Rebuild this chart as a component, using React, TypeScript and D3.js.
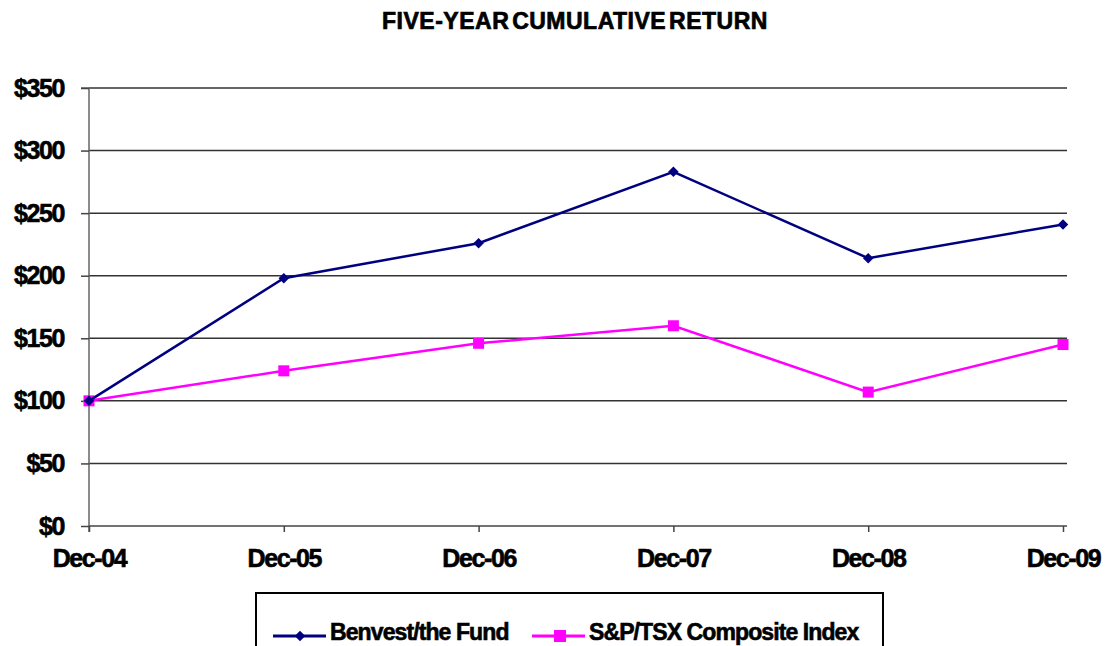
import * as d3 from 'd3';
import { useEffect, useRef } from 'react';

const periods = ['Dec-04', 'Dec-05', 'Dec-06', 'Dec-07', 'Dec-08', 'Dec-09'];
const benvest = [100, 198, 226, 283, 214, 241];
const sptsx = [100, 124, 146, 160, 107, 145];
const yTicks = [0, 50, 100, 150, 200, 250, 300, 350];
const seriesNames = ['Benvest/the Fund', 'S&P/TSX Composite Index'];

const W = 1107;
const H = 646;
const FONT = '"Liberation Sans", Arial, sans-serif';

export default function App() {
  const ref = useRef<SVGSVGElement | null>(null);

  useEffect(() => {
    const svg = d3.select(ref.current);
    svg.selectAll('*').remove();

    const left = 89;
    const right = 1063;
    const top = 88;
    const bottom = 526;

    const x = d3.scalePoint<string>().domain(periods).range([left, right]);
    const y = d3.scaleLinear().domain([0, 350]).range([bottom, top]);

    // title
    svg.append('text')
      .attr('x', 575)
      .attr('y', 29)
      .attr('text-anchor', 'middle')
      .attr('font-family', FONT)
      .attr('font-weight', 'bold')
      .attr('font-size', 23)
      .attr('letter-spacing', 0.5)
      .attr('word-spacing', -4)
      .attr('stroke', '#000')
      .attr('stroke-width', 0.7)
      .text('FIVE-YEAR CUMULATIVE RETURN');

    // gridlines
    svg.append('g')
      .selectAll('line')
      .data(yTicks.filter((d) => d > 0))
      .enter()
      .append('line')
      .attr('x1', left)
      .attr('x2', right + 4)
      .attr('y1', (d) => y(d))
      .attr('y2', (d) => y(d))
      .attr('stroke', '#333')
      .attr('stroke-width', 1.5);

    const styleLabels = (sel: any, size: number, spacing: number) => {
      sel.attr('font-family', FONT)
        .attr('font-weight', 'bold')
        .attr('font-size', size)
        .attr('letter-spacing', spacing)
        .attr('fill', '#000')
        .attr('stroke', '#000')
        .attr('stroke-width', 0.6);
    };

    // Y axis
    const yAxis = svg.append('g')
      .attr('transform', `translate(${left},0)`)
      .call(d3.axisLeft(y).tickValues(yTicks).tickSize(8).tickPadding(17).tickFormat((d) => `$${d}`));
    yAxis.select('.domain').attr('stroke', '#666').attr('stroke-width', 1.5).attr('d', `M-8,${top}H0V${bottom + 6}`);
    yAxis.selectAll('.tick line').attr('stroke', '#444').attr('stroke-width', 1.5);
    styleLabels(yAxis.selectAll('text'), 25, -1.4);

    // X axis
    const xAxis = svg.append('g')
      .attr('transform', `translate(0,${bottom})`)
      .call(d3.axisBottom(x).tickSize(6).tickPadding(17));
    xAxis.select('.domain').attr('stroke', '#444').attr('stroke-width', 1.5).attr('d', `M${left},0H${right + 4}`);
    xAxis.selectAll('.tick line').attr('stroke', '#444').attr('stroke-width', 1.5);
    styleLabels(xAxis.selectAll('text'), 25, -1.4);

    const line = d3.line<number>()
      .x((d, i) => x(periods[i]) as number)
      .y((d) => y(d));

    // S&P/TSX series
    svg.append('path')
      .datum(sptsx)
      .attr('d', line)
      .attr('fill', 'none')
      .attr('stroke', '#ff00ff')
      .attr('stroke-width', 2.5);
    svg.append('g')
      .selectAll('rect')
      .data(sptsx)
      .enter()
      .append('rect')
      .attr('x', (d, i) => (x(periods[i]) as number) - 5.5)
      .attr('y', (d) => y(d) - 5.5)
      .attr('width', 11)
      .attr('height', 11)
      .attr('fill', '#ff00ff');

    // Benvest series
    const diamond = d3.symbol().type(d3.symbolDiamond2).size(70);
    svg.append('path')
      .datum(benvest)
      .attr('d', line)
      .attr('fill', 'none')
      .attr('stroke', '#000080')
      .attr('stroke-width', 2.5);
    svg.append('g')
      .selectAll('path')
      .data(benvest)
      .enter()
      .append('path')
      .attr('d', diamond)
      .attr('transform', (d, i) => `translate(${x(periods[i])},${y(d)})`)
      .attr('fill', '#000080');

    // legend
    svg.append('path')
      .attr('d', `M256,${H + 2}V593H883V${H + 2}`)
      .attr('fill', 'none')
      .attr('stroke', '#000')
      .attr('stroke-width', 2);

    const items = [
      { label: seriesNames[0], color: '#000080', x0: 273, marker: 'diamond' },
      { label: seriesNames[1], color: '#ff00ff', x0: 532, marker: 'square' },
    ];
    const ly = 636;
    items.forEach((it) => {
      svg.append('line')
        .attr('x1', it.x0)
        .attr('x2', it.x0 + 53)
        .attr('y1', ly)
        .attr('y2', ly)
        .attr('stroke', it.color)
        .attr('stroke-width', 3);
      if (it.marker === 'diamond') {
        svg.append('path')
          .attr('d', diamond)
          .attr('transform', `translate(${it.x0 + 27},${ly})`)
          .attr('fill', it.color);
      } else {
        svg.append('rect')
          .attr('x', it.x0 + 22)
          .attr('y', ly - 6)
          .attr('width', 12)
          .attr('height', 12)
          .attr('fill', it.color);
      }
      const t = svg.append('text')
        .attr('x', it.x0 + 57)
        .attr('y', 640)
        .text(it.label);
      styleLabels(t, 23, -0.9);
    });
  }, []);

  return (
    <svg
      ref={ref}
      width={W}
      height={H}
      style={{ position: 'absolute', left: 0, top: 0, background: '#fff' }}
    />
  );
}
